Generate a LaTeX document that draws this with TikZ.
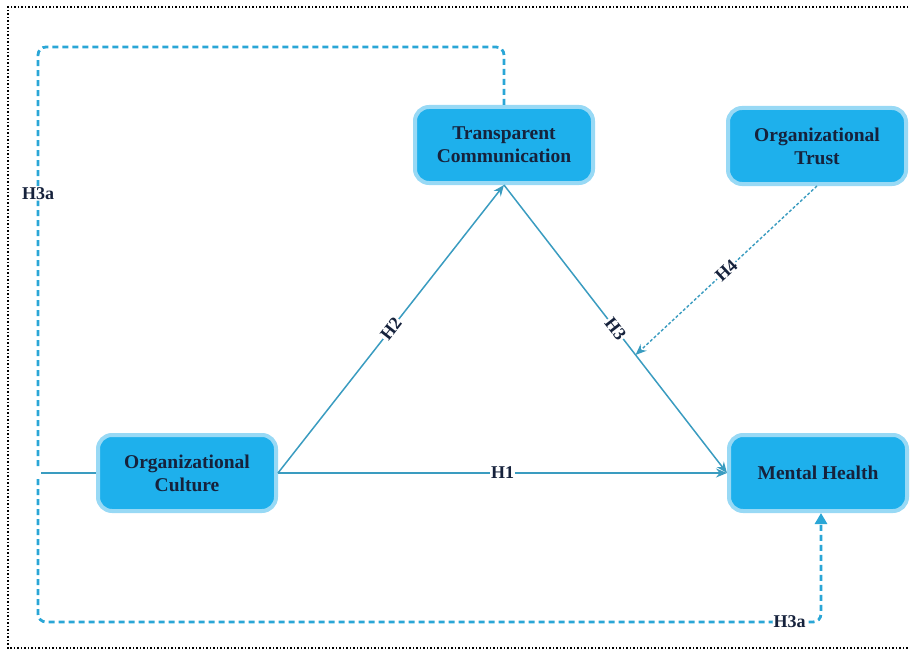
\documentclass[tikz,border=0pt]{standalone}
\usepackage{fontspec}
\setmainfont{Liberation Serif}
\usetikzlibrary{arrows.meta,calc}
\definecolor{boxfill}{HTML}{1EB0EC}
\definecolor{boxglow}{HTML}{98D9F5}
\definecolor{txt}{HTML}{16223C}
\definecolor{lineC}{HTML}{3A9CC0}
\definecolor{dashC}{HTML}{2AA6D6}
\begin{document}
\begin{tikzpicture}[x=1pt,y=-1pt,
  box/.style={draw=boxglow, line width=4pt, fill=boxfill, rounded corners=14pt,
    minimum width=178pt, minimum height=76pt, align=center, text=txt,
    font=\fontsize{19.5}{23}\selectfont\bfseries},
  link/.style={draw=lineC, line width=1.5pt},
  tip/.style={-{Stealth[length=11pt,width=9pt]}},
  bigtip/.style={-{Triangle[length=11pt,width=12pt]}},
  hlab/.style={fill=white, inner sep=1pt, text=txt,
    font=\fontsize{18}{20}\selectfont\bfseries},
  loopline/.style={draw=dashC, line width=2.8pt, dash pattern=on 6pt off 4pt,
    rounded corners=8pt},
  trustline/.style={draw=lineC, line width=1.4pt, dash pattern=on 3pt off 2pt},
  frame/.style={draw=black, line width=1.3pt, dash pattern=on 1.3pt off 2.2pt}
]
\useasboundingbox (0,0) rectangle (910,650);
\draw[frame] (915,7) -- (8,7) -- (8,648) -- (915,648);

\node[box] (tc) at (504,145) {Transparent\\Communication};
\node[box] (ot) at (817,146) {Organizational\\Trust};
\node[box] (oc) at (187,473) {Organizational\\Culture};
\node[box] (mh) at (818,473) {Mental Health};

\draw[link,tip] (oc.east) -- node[hlab]{H1} (mh.west);
\draw[link,tip] (oc.east) -- node[hlab,sloped]{H2} (tc.south);
\draw[link,tip] (tc.south) -- node[hlab,sloped,pos=0.5]{H3} (mh.west);

\coordinate (h4end) at ($(tc.south)!0.59!(mh.west)$);
\draw[trustline,tip] (ot.south) -- node[hlab,sloped]{H4} (h4end);

\coordinate (tl) at (38,47);
\coordinate (jup) at (38,466);
\coordinate (jn) at (41,473);
\coordinate (jdn) at (38,479);
\coordinate (bl) at (38,622);
\coordinate (mhin) at ($(mh.south)+(3,0)$);

\draw[loopline] (tc.north) |- (tl) -- node[hlab,pos=0.35]{H3a} (jup);
\draw[link] (jn) -- (oc.west);
\draw[loopline,bigtip] (jdn) -- (bl) -| node[hlab,pos=0.48]{H3a} (mhin);
\end{tikzpicture}
\end{document}
